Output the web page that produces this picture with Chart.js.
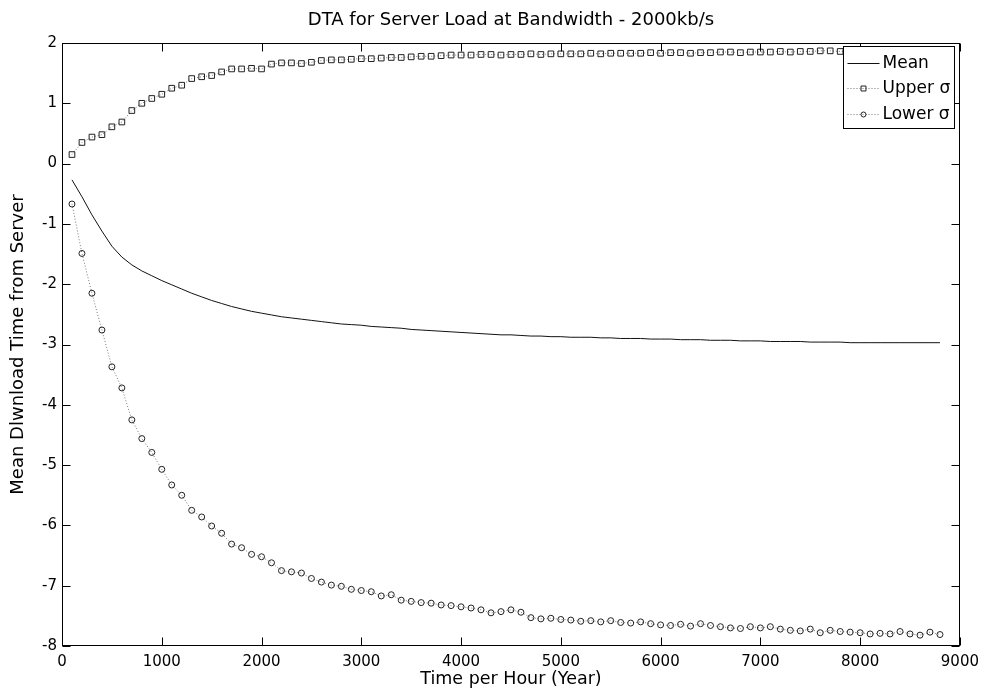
<!DOCTYPE html>
<html>
<head>
<meta charset="utf-8">
<script src="https://cdn.jsdelivr.net/npm/chart.js@4.4.0/dist/chart.umd.min.js"></script>
<style>
  html, body { margin: 0; padding: 0; background: #fff; }
</style>
</head>
<body>
<canvas id="dtaChart" width="986" height="691"></canvas>
<script>
// Zeitpunkte (Stunden)
const timePoints = [
  100, 200, 300, 400, 500, 600, 700, 800, 900, 1000,
  1100, 1200, 1300, 1400, 1500, 1600, 1700, 1800, 1900, 2000,
  2100, 2200, 2300, 2400, 2500, 2600, 2700, 2800, 2900, 3000,
  3100, 3200, 3300, 3400, 3500, 3600, 3700, 3800, 3900, 4000,
  4100, 4200, 4300, 4400, 4500, 4600, 4700, 4800, 4900, 5000,
  5100, 5200, 5300, 5400, 5500, 5600, 5700, 5800, 5900, 6000,
  6100, 6200, 6300, 6400, 6500, 6600, 6700, 6800, 6900, 7000,
  7100, 7200, 7300, 7400, 7500, 7600, 7700, 7800, 7900, 8000,
  8100, 8200, 8300, 8400, 8500, 8600, 8700, 8800
];

// Mittelwert
const meanValues = [
  -0.27, -0.55, -0.85, -1.12, -1.37, -1.55, -1.68, -1.78, -1.86, -1.94,
  -2.01, -2.08, -2.15, -2.21, -2.27, -2.32, -2.37, -2.41, -2.45, -2.48,
  -2.51, -2.54, -2.56, -2.58, -2.60, -2.62, -2.64, -2.66, -2.67, -2.68,
  -2.70, -2.71, -2.72, -2.73, -2.75, -2.76, -2.77, -2.78, -2.79, -2.80,
  -2.81, -2.82, -2.83, -2.84, -2.84, -2.85, -2.86, -2.86, -2.87, -2.87,
  -2.88, -2.88, -2.88, -2.89, -2.89, -2.90, -2.90, -2.90, -2.91, -2.91,
  -2.91, -2.92, -2.92, -2.92, -2.93, -2.93, -2.93, -2.94, -2.94, -2.94,
  -2.95, -2.95, -2.95, -2.95, -2.96, -2.96, -2.96, -2.96, -2.97, -2.97,
  -2.97, -2.97, -2.97, -2.97, -2.97, -2.97, -2.97, -2.97
];

// obere Standardabweichung
const upperValues = [
  0.15, 0.35, 0.44, 0.48, 0.61, 0.69, 0.88, 1.00, 1.08, 1.15,
  1.25, 1.30, 1.41, 1.44, 1.46, 1.52, 1.57, 1.57, 1.58, 1.57,
  1.65, 1.67, 1.67, 1.66, 1.68, 1.71, 1.72, 1.72, 1.73, 1.74,
  1.74, 1.75, 1.76, 1.76, 1.77, 1.78, 1.78, 1.79, 1.80, 1.80,
  1.80, 1.81, 1.81, 1.80, 1.81, 1.81, 1.82, 1.81, 1.82, 1.82,
  1.82, 1.82, 1.83, 1.82, 1.83, 1.83, 1.83, 1.83, 1.84, 1.83,
  1.84, 1.84, 1.83, 1.84, 1.84, 1.85, 1.85, 1.84, 1.85, 1.85,
  1.85, 1.86, 1.85, 1.86, 1.86, 1.87, 1.87, 1.86, 1.87, 1.87,
  1.87, 1.88, 1.88, 1.88, 1.88, 1.89, 1.89, 1.89
];

// untere Standardabweichung
const lowerValues = [
  -0.67, -1.49, -2.15, -2.76, -3.37, -3.72, -4.25, -4.56, -4.79, -5.07,
  -5.33, -5.50, -5.75, -5.86, -6.01, -6.13, -6.31, -6.37, -6.48, -6.52,
  -6.62, -6.75, -6.77, -6.79, -6.88, -6.94, -6.99, -7.01, -7.06, -7.08,
  -7.10, -7.17, -7.15, -7.24, -7.26, -7.28, -7.29, -7.32, -7.33, -7.35,
  -7.37, -7.40, -7.45, -7.43, -7.40, -7.44, -7.53, -7.55, -7.54, -7.56,
  -7.57, -7.59, -7.58, -7.60, -7.58, -7.61, -7.62, -7.60, -7.63, -7.65,
  -7.66, -7.64, -7.67, -7.63, -7.66, -7.68, -7.70, -7.71, -7.68, -7.70,
  -7.68, -7.72, -7.74, -7.75, -7.72, -7.78, -7.74, -7.76, -7.77, -7.78,
  -7.80, -7.79, -7.80, -7.76, -7.80, -7.82, -7.77, -7.81
];

const seriesLabels = ["Mean", "Upper \u03c3", "Lower \u03c3"];

function toPoints(values) {
  return values.map((v, i) => ({ x: timePoints[i], y: v }));
}

// Rahmen und nach innen zeigende Ticks (MATLAB-Stil)
const boxAxes = {
  id: "boxAxes",
  afterDatasetsDraw(chart) {
    const ctx = chart.ctx;
    const a = chart.chartArea;
    const sx = chart.scales.x;
    const sy = chart.scales.y;
    const L = Math.round(a.left) + 0.5, R = Math.round(a.right) - 0.5;
    const T = Math.round(a.top) + 0.5, B = Math.round(a.bottom) - 0.5;
    ctx.save();
    ctx.strokeStyle = "#000";
    ctx.lineWidth = 1;
    ctx.strokeRect(L, T, R - L, B - T);
    ctx.beginPath();
    sx.ticks.forEach((t) => {
      const px = Math.round(sx.getPixelForValue(t.value)) + 0.5;
      ctx.moveTo(px, B); ctx.lineTo(px, B - 8);
      ctx.moveTo(px, T); ctx.lineTo(px, T + 8);
    });
    sy.ticks.forEach((t) => {
      const py = Math.round(sy.getPixelForValue(t.value)) + 0.5;
      ctx.moveTo(L, py); ctx.lineTo(L + 8, py);
      ctx.moveTo(R, py); ctx.lineTo(R - 8, py);
    });
    ctx.stroke();
    ctx.restore();
  }
};

// Legende mit weissem Kasten oben rechts im Plot
const boxLegend = {
  id: "boxLegend",
  afterDraw(chart) {
    const ctx = chart.ctx;
    const a = chart.chartArea;
    const x0 = Math.round(a.right) - 116.5, y0 = Math.round(a.top) + 3.5;
    const w = 111, h = 82;
    ctx.save();
    ctx.fillStyle = "#fff";
    ctx.fillRect(x0, y0, w, h);
    ctx.strokeStyle = "#000";
    ctx.lineWidth = 1;
    ctx.strokeRect(x0, y0, w, h);
    chart.data.datasets.forEach((ds, i) => {
      const ly = Math.round(y0 + 16 + i * 25.5) + 0.5;
      ctx.save();
      ctx.strokeStyle = ds.borderColor;
      ctx.lineWidth = ds.borderWidth;
      ctx.setLineDash(ds.borderDash || []);
      ctx.beginPath();
      ctx.moveTo(x0 + 4, ly);
      ctx.lineTo(x0 + 36, ly);
      ctx.stroke();
      ctx.restore();
      if (ds.pointRadius > 0) {
        ctx.save();
        ctx.strokeStyle = ds.pointBorderColor;
        ctx.fillStyle = ds.pointBackgroundColor;
        ctx.lineWidth = ds.pointBorderWidth;
        Chart.helpers.drawPoint(ctx, {
          pointStyle: ds.pointStyle, radius: ds.pointRadius - 0.5,
          borderWidth: ds.pointBorderWidth, rotation: 0
        }, x0 + 20, ly);
        ctx.restore();
      }
      ctx.fillStyle = "#000";
      ctx.font = '17px "DejaVu Sans", sans-serif';
      ctx.textBaseline = "middle";
      ctx.textAlign = "left";
      ctx.fillText(ds.label, x0 + 39, ly);
    });
    ctx.restore();
  }
};

Chart.defaults.font.family = '"DejaVu Sans", "Liberation Sans", sans-serif';
Chart.defaults.color = "#000";

new Chart(document.getElementById("dtaChart"), {
  type: "line",
  data: {
    datasets: [
      {
        label: seriesLabels[0],
        data: toPoints(meanValues),
        borderColor: "#111",
        borderWidth: 1,
        pointRadius: 0,
        tension: 0
      },
      {
        label: seriesLabels[1],
        data: toPoints(upperValues),
        borderColor: "#777",
        borderWidth: 1,
        borderDash: [1, 2],
        pointStyle: "rect",
        pointRadius: 4,
        pointBorderColor: "#222",
        pointBackgroundColor: "rgba(255,255,255,0)",
        pointBorderWidth: 1,
        tension: 0
      },
      {
        label: seriesLabels[2],
        data: toPoints(lowerValues),
        borderColor: "#777",
        borderWidth: 1,
        borderDash: [1, 2],
        pointStyle: "circle",
        pointRadius: 3,
        pointBorderColor: "#222",
        pointBackgroundColor: "rgba(255,255,255,0)",
        pointBorderWidth: 1,
        tension: 0
      }
    ]
  },
  options: {
    responsive: false,
    animation: false,
    layout: { padding: { left: 0, right: 26, top: 0, bottom: 0 } },
    plugins: {
      legend: { display: false },
      tooltip: { enabled: false },
      title: {
        display: true,
        fullSize: false,
        text: "DTA for Server Load at Bandwidth - 2000kb/s",
        font: { size: 18, weight: "normal" },
        color: "#000",
        padding: { top: 10, bottom: 11.4 }
      }
    },
    scales: {
      x: {
        type: "linear",
        min: 0,
        max: 9000,
        grid: { display: false, drawTicks: false },
        border: { display: false },
        ticks: {
          stepSize: 1000,
          autoSkip: false,
          maxRotation: 0,
          padding: 7,
          font: { size: 15 },
          callback: (v) => String(v)
        },
        title: {
          display: true,
          text: "Time per Hour (Year)",
          font: { size: 17.5 },
          padding: { top: 0, bottom: 1 }
        },
        afterFit(scale) { scale.height = 45; }
      },
      y: {
        min: -8,
        max: 2,
        grid: { display: false, drawTicks: false },
        border: { display: false },
        ticks: {
          stepSize: 1,
          padding: 5,
          font: { size: 15 },
          callback: (v) => String(v)
        },
        title: {
          display: true,
          text: "Mean Dlwnload Time from Server",
          font: { size: 18 },
          padding: { top: 8, bottom: 0 }
        },
        afterFit(scale) { scale.width = 62; }
      }
    }
  },
  plugins: [boxAxes, boxLegend]
});
</script>
</body>
</html>
